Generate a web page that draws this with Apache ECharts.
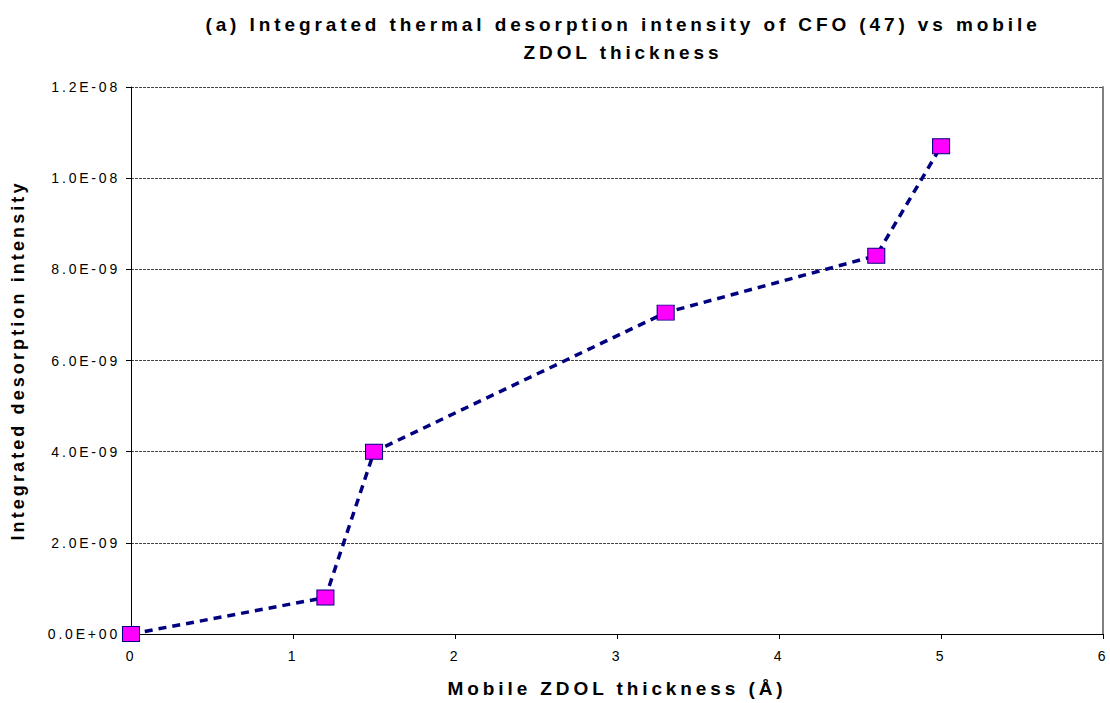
<!DOCTYPE html>
<html>
<head>
<meta charset="utf-8">
<title>Integrated thermal desorption intensity of CFO (47)</title>
<script src="https://cdn.jsdelivr.net/npm/echarts@6/dist/echarts.min.js"></script>
<style>
  html, body { margin: 0; padding: 0; background: #fff; }
  #chart { width: 1110px; height: 703px; }
  /* wide tracking on all chart text */
  #chart text { letter-spacing: 2.8px; }
  #chart text[style*="19px"] { letter-spacing: 3.9px; }
  #chart text[style*="18px"] { letter-spacing: 3.1px; }
</style>
</head>
<body>
<div id="chart"></div>
<script>
// Mobile ZDOL thickness (Å)
const thickness = [0, 1.2, 1.5, 3.3, 4.6, 5.0];
// Integrated desorption intensity of CFO (m/z 47)
const intensity = [0, 8.0e-10, 4.0e-9, 7.05e-9, 8.3e-9, 1.07e-8];

const titleLines = [
  '(a) Integrated thermal desorption intensity of CFO (47) vs mobile',
  'ZDOL thickness'
];
const xAxisTitle = 'Mobile ZDOL thickness (Å)';
const yAxisTitle = 'Integrated desorption intensity';

const FONT = "'Liberation Sans', Arial, sans-serif";

// 1.2E-08 style labels with a two-digit exponent
function sciLabel(v) {
  const parts = Number(v).toExponential(1).split('e');
  const exp = parseInt(parts[1], 10);
  const sign = exp < 0 ? '-' : '+';
  const digits = String(Math.abs(exp)).padStart(2, '0');
  return parts[0] + 'E' + sign + digits;
}

const chart = echarts.init(document.getElementById('chart'), null, { renderer: 'svg' });

chart.setOption({
  animation: false,
  backgroundColor: '#ffffff',
  title: {
    text: titleLines.join('\n'),
    left: 618,
    top: 5,
    textAlign: 'center',
    textStyle: {
      fontFamily: FONT,
      fontWeight: 'bold',
      fontSize: 19,
      lineHeight: 28,
      color: '#000'
    }
  },
  grid: { left: 131, right: 5, top: 87, bottom: 69, containLabel: false },
  xAxis: {
    type: 'value',
    min: 0,
    max: 6,
    interval: 1,
    name: xAxisTitle,
    nameLocation: 'middle',
    nameGap: 45,
    nameTextStyle: { fontFamily: FONT, fontWeight: 'bold', fontSize: 19, color: '#000' },
    axisLine: { show: true, onZero: false, lineStyle: { color: '#000', width: 1 } },
    axisTick: { show: true, inside: false, length: 5, lineStyle: { color: '#000' } },
    axisLabel: { fontFamily: FONT, fontSize: 14, color: '#000', margin: 15 },
    splitLine: { show: false }
  },
  yAxis: [{
    type: 'value',
    min: 0,
    max: 1.2e-8,
    interval: 2e-9,
    name: yAxisTitle,
    nameLocation: 'middle',
    nameGap: 104,
    nameRotate: 90,
    nameTextStyle: { fontFamily: FONT, fontWeight: 'bold', fontSize: 18, color: '#000' },
    axisLine: { show: true, onZero: false, lineStyle: { color: '#000', width: 1 } },
    axisTick: { show: true, inside: false, length: 5, lineStyle: { color: '#000' } },
    axisLabel: { fontFamily: FONT, fontSize: 14, color: '#000', margin: 11, formatter: sciLabel },
    splitLine: { show: true, lineStyle: { color: '#444', width: 1, type: [3, 1] } }
  }, {
    // gray frame on the right edge of the plot area
    type: 'value',
    position: 'right',
    min: 0,
    max: 1.2e-8,
    axisLine: { show: true, onZero: false, lineStyle: { color: '#808080', width: 2 } },
    axisTick: { show: false },
    axisLabel: { show: false },
    splitLine: { show: false }
  }],
  series: [{
    type: 'line',
    data: thickness.map((x, i) => [x, intensity[i]]),
    symbol: 'rect',
    symbolSize: [17, 15],
    lineStyle: { color: '#000080', width: 3.5, type: [8, 6] },
    itemStyle: { color: '#ff00ff', borderColor: '#000080', borderWidth: 1 },
    z: 3
  }]
});
</script>
</body>
</html>
